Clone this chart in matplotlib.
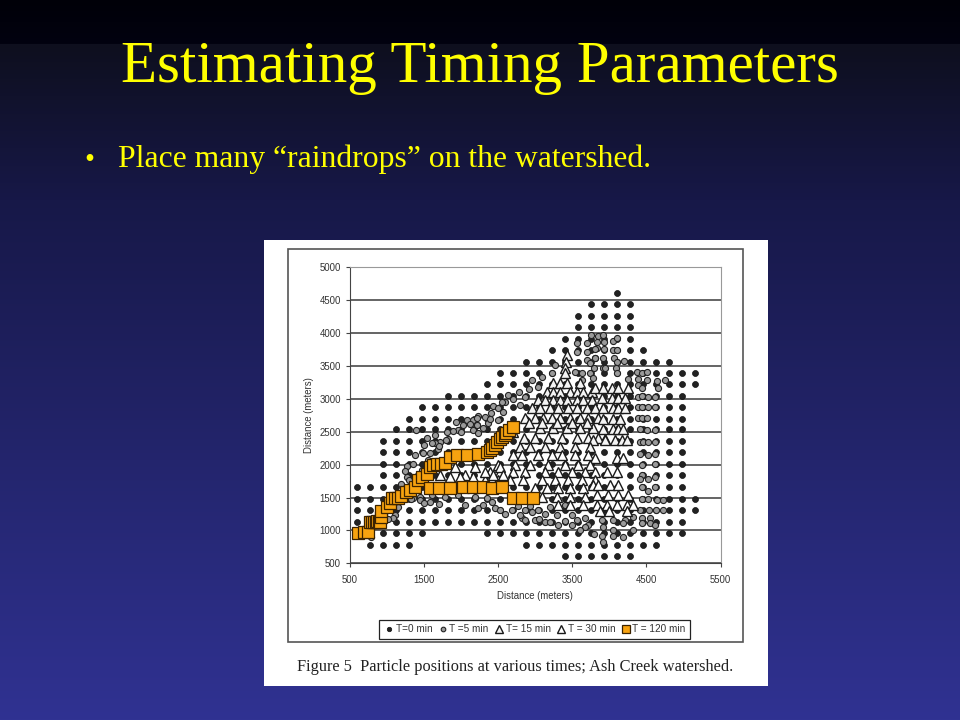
import matplotlib
matplotlib.use("Agg")
import matplotlib.pyplot as plt
from matplotlib.patches import Rectangle
import numpy as np

title = "Estimating Timing Parameters"
bullet_text = "Place many \u201craindrops\u201d on the watershed."
caption = "Figure 5  Particle positions at various times; Ash Creek watershed."
x_label = "Distance (meters)"
y_label = "Distance (meters)"
x_ticks = [500, 1500, 2500, 3500, 4500, 5500]
y_ticks = [500, 1000, 1500, 2000, 2500, 3000, 3500, 4000, 4500, 5000]
labels = ["T=0 min", "T =5 min", "T= 15 min", "T = 30 min", "T = 120 min"]

# starting lattice of the particles
grid_x = [600, 775, 950, 1125, 1300, 1475, 1650, 1825, 2000, 2175, 2350, 2525, 2700, 2875,
          3050, 3225, 3400, 3575, 3750, 3925, 4100, 4275, 4450, 4625, 4800, 4975, 5150]
# row value, then first and last column of each run of dots
t0_rows = [
    (610, [(16, 21)]),
    (785, [(1, 4), (13, 23)]),
    (960, [(1, 5), (10, 25)]),
    (1135, [(0, 25)]),
    (1310, [(0, 26)]),
    (1485, [(0, 26)]),
    (1660, [(0, 25)]),
    (1835, [(2, 25)]),
    (2010, [(2, 25)]),
    (2185, [(2, 25)]),
    (2360, [(2, 25)]),
    (2535, [(3, 25)]),
    (2700, [(4, 25)]),
    (2875, [(5, 25)]),
    (3045, [(7, 25)]),
    (3220, [(10, 26)]),
    (3390, [(11, 26)]),
    (3565, [(13, 24)]),
    (3740, [(15, 22)]),
    (3915, [(16, 21)]),
    (4090, [(17, 21)]),
    (4265, [(17, 21)]),
    (4440, [(18, 21)]),
    (4612, [(20, 20)]),
]

t5_x = [3567, 3702, 3837, 3567, 3702, 3810, 3702, 3742, 3270, 3742, 3540, 3634, 3783, 3634,
        3095, 3230, 2960, 2920, 3040, 2785, 2866, 2637, 2596, 2434, 2502, 2569, 2407, 2232,
        2326, 2367, 2502, 2165, 2219, 2165, 2232,
        3755, 3850, 3837, 3917, 3931, 4052, 4106, 3810, 3931, 4052, 4106, 3810, 3917, 3917,
        4065, 4106, 4200, 3796, 3944, 4092, 4106, 4254, 4376, 4443, 4510, 4389, 4510, 4645,
        4753, 4659, 4389, 4443, 4389, 4443, 4524, 4618, 4389, 4443, 4524, 4618, 4389, 4443,
        4510, 4416, 4510, 4618,
        4416, 4456, 4524, 4618, 4416, 4524, 4618, 4443, 4618, 4443, 4416, 4524, 4618, 4443,
        4524, 4618, 4443, 4524, 4645, 4726, 4416, 4537, 4632, 4726, 4443, 4551, 4443, 4551,
        4618, 4322, 4187, 4052, 4052, 3917, 3904, 3917, 4214, 4322, 4187, 4052, 3904,
        2192, 2354, 2421, 2461, 2529, 2690, 2771, 2866, 2933, 2960, 2825, 2866, 3000, 3135,
        3135, 3297, 3310, 3499, 3499, 3567, 3675, 3715, 3675, 3405, 3203, 3040,
        1936, 2030, 2084, 2219, 2219, 1963, 1895, 1814, 1652, 1828, 1720, 1652, 1504, 1612,
        1693, 1585, 1491, 1383, 1558, 1275, 1356, 1477, 1275, 1423, 1302, 1450, 1356, 1612,
        1787, 1963, 2192, 2232, 1450, 1585, 1073, 1113, 1086, 1019, 790,
        1400, 1540, 1700, 1800, 2000, 2130, 2300, 2400, 2550, 2700, 2800, 1250, 1200, 1330,
        1150, 1500, 1700, 2050, 2300, 2600, 2800, 3050, 3200, 3400, 3600, 3800]
t5_y = [3849, 3849, 3772, 3712, 3712, 3621, 3590, 3545, 3514, 3392, 3408, 3392, 3317, 3286,
        3332, 3392, 3286, 3149, 3180, 3104, 3028, 3058, 2952, 2891, 2861, 2800, 2785, 2739,
        2724, 2633, 2678, 2678, 2602, 2526, 2480,
        3970, 3955, 3864, 3970, 3864, 3880, 3925, 3757, 3757, 3742, 3742, 3621, 3621, 3470,
        3621, 3560, 3575, 3469, 3469, 3469, 3392, 3301, 3408, 3392, 3408, 3301, 3286, 3271,
        3286, 3165, 3210, 3165, 3028, 3043, 3028, 3028, 2876, 2876, 2876, 2876, 2709, 2709,
        2709, 2541, 2526, 2526,
        2344, 2344, 2344, 2344, 2161, 2146, 2161, 1994, 2009, 1842, 1781, 1781, 1812, 1660,
        1599, 1660, 1477, 1477, 1462, 1462, 1310, 1310, 1310, 1310, 1189, 1189, 1113, 1113,
        1082, 1006, 900, 1006, 915, 1052, 915, 824, 1158, 1204, 1113, 1158, 1158,
        1493, 1493, 1432, 1341, 1310, 1310, 1371, 1310, 1371, 1280, 1189, 1158, 1158, 1249,
        1128, 1234, 1082, 1234, 1082, 1158, 1189, 1082, 1052, 1386, 1356, 1310,
        2648, 2602, 2678, 2709, 2602, 2526, 2511, 2496, 2450, 2389, 2344, 2329, 2298, 2329,
        2237, 2177, 2177, 2146, 2070, 1979, 2009, 1918, 1812, 1842, 1766, 1508, 1493, 1538,
        1508, 1538, 1508, 1341, 1462, 1432, 1462, 1234, 1189, 1174, 900,
        2530, 2400, 2280, 2380, 2500, 2620, 2560, 2700, 2950, 3000, 2900, 1900, 1700, 1480,
        1350, 1420, 1400, 1390, 1380, 1250, 1240, 1180, 1130, 1150, 1000, 950]

t15_x = [3430, 3420, 3400, 3400, 3240, 3340, 3430, 3610, 3160, 3240, 3340, 3470, 3570, 3650,
         3770, 3040, 3140, 3240, 3340, 3430, 3570, 3650, 3770, 2960, 3070, 3200, 3310, 3450,
         3570, 3700, 3810, 2870, 3000, 3110, 3230, 3340, 3470, 3610, 3720, 3850,
         3810, 3917, 4039, 4120, 4254, 3904, 4039, 4120, 4214, 3917, 4052, 4120, 4214, 3917,
         4052, 4146, 3917, 4052, 4120, 4187, 3944,
         3068, 3243, 3432, 3607, 3783, 3000, 3176, 3365, 3567, 3715, 3850,
         3783, 3944, 4079, 4173, 4241, 2798, 2933, 3135, 3338, 3540, 3742,
         2920, 3100, 3300, 3500, 3700, 2700, 2850]
t15_y = [3667, 3560, 3469, 3392, 3240, 3240, 3240, 3240, 3104, 3104, 3104, 3104, 3104, 3104,
         3104, 2982, 2982, 2982, 2982, 2982, 2982, 2982, 2982, 2861, 2861, 2861, 2861, 2861,
         2861, 2861, 2861, 2709, 2709, 2709, 2709, 2709, 2709, 2709, 2709, 2709,
         3165, 3165, 3165, 3165, 3165, 3013, 3013, 3013, 3013, 2861, 2861, 2861, 2861, 2694,
         2694, 2694, 2541, 2541, 2541, 2541, 2389,
         2557, 2557, 2557, 2557, 2557, 2405, 2405, 2405, 2405, 2405, 2405,
         2374, 2374, 2374, 2374, 2374, 2268, 2268, 2268, 2268, 2268, 2268,
         2640, 2640, 2640, 2640, 2640, 2500, 2400]

t30_x = [2704, 2825, 3040, 3230, 3365, 3540, 3715, 3810, 4106, 4187,
         2502, 2731, 2933, 3176, 3405, 3580, 3742, 2394, 2529, 2704, 2866, 3135, 3310, 3499,
         3675, 3810, 3971, 4106, 2326, 2502, 2664, 2839, 3095, 3270, 3445, 3634, 3810, 3000,
         3162, 3310, 3472, 3648, 3783, 3850, 4011, 4120, 3095, 3297, 3472, 3675, 3837, 3985,
         4120, 4254, 3310, 3472, 3648, 3837, 3971, 4106, 4241, 4322, 3877, 4000, 4240,
         1922, 2057, 2192, 2326, 2529, 1720, 1855, 1990, 2165, 2434, 2569]
t30_y = [2146, 2146, 2146, 2146, 2146, 2146, 2146, 2101, 2101, 2101,
         1994, 1994, 1994, 1994, 1994, 1994, 1994, 1888, 1888, 1888, 1888, 1888, 1888, 1888,
         1888, 1888, 1888, 1888, 1766, 1766, 1766, 1766, 1766, 1766, 1766, 1766, 1766, 1645,
         1645, 1645, 1645, 1645, 1690, 1690, 1690, 1690, 1508, 1508, 1508, 1508, 1538, 1538,
         1538, 1538, 1386, 1386, 1386, 1386, 1386, 1386, 1386, 1386, 1300, 1290, 1290,
         1964, 1842, 1964, 1888, 1964, 1842, 1812, 1812, 1812, 1842, 1842]

t120_x = [615, 700, 749, 776, 800, 830, 857, 870, 900, 911, 925, 925, 1005, 1040, 1073, 1110,
          1154, 1200, 1262, 1320, 1383, 1423, 1480, 1545, 1585, 1620, 1680, 1730, 1787, 1855,
          1949, 2084, 2232, 2354, 2390, 2421, 2460, 2488, 2530, 2556, 2590,
          2610, 2650, 2704, 1585, 1706, 1855, 2030, 2165, 2300,
          2421, 2556, 2704, 2825, 2973]
t120_y = [960, 970, 976, 1128, 1135, 1128, 1128, 1140, 1130, 1128, 1204, 1295, 1356, 1420,
          1493, 1490, 1493, 1530, 1584, 1620, 1660, 1766, 1810, 1857, 1964, 1990, 2009, 2010,
          2025, 2116, 2146, 2146, 2161, 2192, 2220, 2253, 2300, 2344, 2385,
          2420, 2450, 2481, 2526, 2572, 1645, 1645, 1645, 1660, 1660, 1660,
          1645, 1660, 1493, 1493, 1493]

t0_x = []
t0_y = []
for row_y, runs in t0_rows:
    for first, last in runs:
        for col in grid_x[first:last + 1]:
            t0_x.append(col)
            t0_y.append(row_y)

W, H = 960, 720
fig = plt.figure(figsize=(W / 100, H / 100), dpi=100)

# slide background
bg = fig.add_axes([0, 0, 1, 1])
rows = np.arange(H)
red = np.interp(rows, [0, 43, 44, 200, 719], [0, 2, 14, 23, 48])
green = np.interp(rows, [0, 43, 44, 200, 719], [0, 2, 15, 24, 50])
blue = np.interp(rows, [0, 43, 44, 200, 719], [8, 16, 30, 72, 146])
gradient = np.stack([red, green, blue], axis=1)[:, None, :] / 255
bg.imshow(gradient, aspect="auto", extent=[0, W, H, 0])
bg.set_xlim(0, W)
bg.set_ylim(H, 0)
bg.axis("off")
bg.add_patch(Rectangle((264, 240), 504, 446, fc="white", ec="none"))
bg.add_patch(Rectangle((288, 249), 454.5, 392.5, fc="white", ec="#555555", lw=1.2))

serif = "Liberation Serif"
sans = "Liberation Sans"
bg.text(480, 82, title, color="#ffff00", family=serif, fontsize=42.5, ha="center", va="baseline")
bg.text(84, 167, "\u2022", color="#ffff00", family=serif, fontsize=20.5, ha="left", va="baseline")
bg.text(118, 167, bullet_text, color="#ffff00", family=serif, fontsize=22.8, ha="left", va="baseline")
bg.text(297, 671, caption, color="#222222", family=serif, fontsize=11.8, ha="left", va="baseline")

ax = fig.add_axes([349.5 / W, 1 - 563.3 / H, 371 / W, 296 / H])
ax.set_xlim(500, 5500)
ax.set_ylim(500, 5000)
ax.set_xticks(x_ticks)
ax.set_yticks(y_ticks)
ax.patch.set_alpha(0)
ax.grid(axis="y", color="#3a3a3a", lw=1.1)
ax.set_axisbelow(True)
ax.tick_params(labelsize=6.9, labelcolor="#333333", color="#444444", length=3, width=0.8, pad=3)
ax.tick_params(axis="x", pad=5.5)
for lab in ax.get_xticklabels() + ax.get_yticklabels():
    lab.set_family(sans)
ax.set_xlabel(x_label, fontsize=6.9, family=sans, color="#333333", labelpad=4)
ax.set_ylabel(y_label, fontsize=6.9, family=sans, color="#333333", labelpad=4)
ax.spines["left"].set_color("#444444")
ax.spines["bottom"].set_color("#444444")
ax.spines["top"].set_color("#999999")
ax.spines["right"].set_color("#999999")

h0, = ax.plot(t0_x, t0_y, "o", ms=4.3, mfc="#222222", mec="#111111", mew=0.5, ls="none")
h1, = ax.plot(t5_x, t5_y, "o", ms=4.4, mfc="#9a9a9a", mec="#222222", mew=0.8, ls="none")
h2, = ax.plot(t15_x, t15_y, "^", ms=6.8, mfc="#f4f4f4", mec="#1a1a1a", mew=1.0, ls="none")
h3, = ax.plot(t30_x, t30_y, "^", ms=6.8, mfc="white", mec="#1a1a1a", mew=1.0, ls="none")
h4, = ax.plot(t120_x, t120_y, "s", ms=8.2, mfc="#f7a310", mec="#3a2200", mew=0.9, ls="none")

leg = fig.legend([h0, h1, h2, h3, h4], labels, ncol=5, loc="center",
                 bbox_to_anchor=(534.5 / W, 1 - 629 / H), fancybox=False, edgecolor="#222222",
                 framealpha=1, prop={"family": sans, "size": 7.2}, handletextpad=0.1,
                 columnspacing=0.5, handlelength=1.1, borderpad=0.45, markerscale=0.75)
leg.get_frame().set_linewidth(0.9)
for t in leg.get_texts():
    t.set_color("#333333")

fig.savefig("out.png", dpi=100)
